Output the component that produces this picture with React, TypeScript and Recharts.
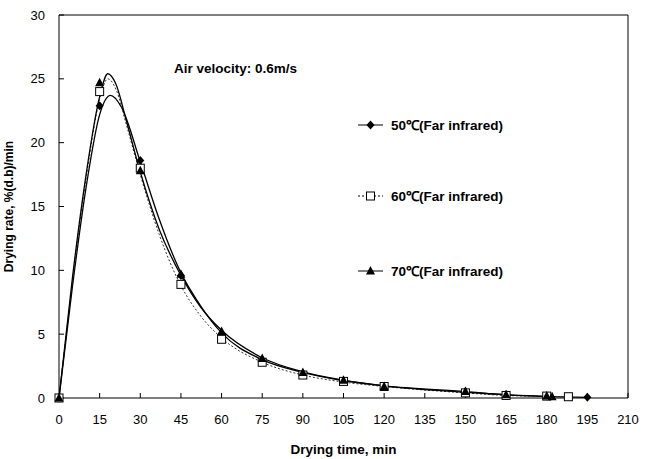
import {
  ComposedChart,
  Line,
  Scatter,
  XAxis,
  YAxis,
  ReferenceLine,
} from "recharts";

// measured points (markers)
const pts50 = [
  { x: 0, y: 0 }, { x: 15, y: 22.9 }, { x: 30, y: 18.6 }, { x: 45, y: 9.6 },
  { x: 60, y: 5.0 }, { x: 75, y: 2.9 }, { x: 90, y: 1.9 }, { x: 105, y: 1.3 },
  { x: 120, y: 0.9 }, { x: 150, y: 0.5 }, { x: 165, y: 0.25 }, { x: 180, y: 0.15 },
  { x: 195, y: 0.05 },
];
const pts60 = [
  { x: 0, y: 0 }, { x: 15, y: 24.0 }, { x: 30, y: 18.0 }, { x: 45, y: 8.9 },
  { x: 60, y: 4.6 }, { x: 75, y: 2.8 }, { x: 90, y: 1.8 }, { x: 105, y: 1.3 },
  { x: 120, y: 0.9 }, { x: 150, y: 0.4 }, { x: 165, y: 0.2 }, { x: 180, y: 0.15 },
  { x: 188, y: 0.1 },
];
const pts70 = [
  { x: 0, y: 0 }, { x: 15, y: 24.7 }, { x: 30, y: 17.8 }, { x: 45, y: 9.7 },
  { x: 60, y: 5.2 }, { x: 75, y: 3.1 }, { x: 90, y: 2.0 }, { x: 105, y: 1.4 },
  { x: 120, y: 0.9 }, { x: 150, y: 0.5 }, { x: 165, y: 0.25 }, { x: 180, y: 0.15 },
  { x: 182, y: 0.1 },
];

// fitted curves
const fit50 = [
  { x: 0, y: 0 }, { x: 5, y: 8.8 }, { x: 10, y: 16.5 }, { x: 15, y: 22.2 },
  { x: 19, y: 23.7 }, { x: 23, y: 22.8 }, { x: 30, y: 18.5 }, { x: 37, y: 14.0 },
  { x: 45, y: 9.8 }, { x: 52, y: 7.3 }, { x: 60, y: 5.1 }, { x: 75, y: 3.0 },
  { x: 90, y: 2.0 }, { x: 105, y: 1.35 }, { x: 120, y: 0.95 }, { x: 150, y: 0.5 },
  { x: 165, y: 0.25 }, { x: 195, y: 0.05 },
];
const fit60 = [
  { x: 0, y: 0 }, { x: 5, y: 9.2 }, { x: 10, y: 17.2 }, { x: 15, y: 23.4 },
  { x: 18, y: 25.0 }, { x: 21, y: 24.2 }, { x: 25, y: 21.3 }, { x: 30, y: 17.5 },
  { x: 37, y: 12.8 }, { x: 45, y: 8.8 }, { x: 52, y: 6.5 }, { x: 60, y: 4.7 },
  { x: 75, y: 2.8 }, { x: 90, y: 1.8 }, { x: 105, y: 1.25 }, { x: 120, y: 0.9 },
  { x: 150, y: 0.4 }, { x: 165, y: 0.2 }, { x: 188, y: 0.1 },
];
const fit70 = [
  { x: 0, y: 0 }, { x: 5, y: 9.5 }, { x: 10, y: 17.5 }, { x: 15, y: 23.6 },
  { x: 18, y: 25.4 }, { x: 21, y: 24.6 }, { x: 25, y: 21.6 }, { x: 30, y: 17.7 },
  { x: 37, y: 13.2 }, { x: 45, y: 9.6 }, { x: 52, y: 7.2 }, { x: 60, y: 5.3 },
  { x: 75, y: 3.15 }, { x: 90, y: 2.05 }, { x: 105, y: 1.4 }, { x: 120, y: 0.95 },
  { x: 150, y: 0.45 }, { x: 165, y: 0.25 }, { x: 182, y: 0.1 },
];

const xTicks = [0, 15, 30, 45, 60, 75, 90, 105, 120, 135, 150, 165, 180, 195, 210];
const yTicks = [0, 5, 10, 15, 20, 25, 30];

const legendItems = [
  { label: "50℃(Far infrared)", shape: "diamond", dash: undefined as string | undefined, top: 116 },
  { label: "60℃(Far infrared)", shape: "square", dash: "2 2", top: 187 },
  { label: "70℃(Far infrared)", shape: "triangle", dash: undefined, top: 262 },
];

const FONT = "'Liberation Sans', Arial, sans-serif";

function Marker({ cx, cy, kind }: any) {
  if (cx == null || cy == null) return null;
  if (kind === "diamond")
    return (
      <polygon
        points={`${cx},${cy - 4.5} ${cx + 4},${cy} ${cx},${cy + 4.5} ${cx - 4},${cy}`}
        fill="#000"
      />
    );
  if (kind === "square")
    return (
      <rect x={cx - 4} y={cy - 4} width={8} height={8} fill="#fff" stroke="#000" strokeWidth={1} />
    );
  return (
    <polygon
      points={`${cx},${cy - 5} ${cx + 4.5},${cy + 3.5} ${cx - 4.5},${cy + 3.5}`}
      fill="#000"
    />
  );
}

function LegendIcon({ shape, dash }: any) {
  return (
    <svg width={27} height={12} style={{ marginRight: 7 }}>
      <line x1={1} y1={6} x2={26} y2={6} stroke="#000" strokeWidth={1} strokeDasharray={dash} />
      <Marker cx={13.5} cy={6} kind={shape} />
    </svg>
  );
}

export default function App() {
  return (
    <div style={{ position: "absolute", left: 0, top: 0, width: 649, height: 459, background: "#fff" }}>
      <ComposedChart
        width={649}
        height={459}
        margin={{ top: 15, right: 21, left: 0, bottom: 0 }}
      >
        <XAxis
          dataKey="x"
          type="number"
          domain={[0, 210]}
          ticks={xTicks}
          interval={0}
          allowDuplicatedCategory={false}
          height={61}
          stroke="#000"
          tickSize={-5}
          tickMargin={22}
          tick={{ fill: "#000", fontSize: 13, fontFamily: FONT }}
          label={{
            value: "Drying time, min",
            position: "insideBottom",
            offset: 5,
            fill: "#000",
            fontSize: 13.5,
            fontWeight: "bold",
            fontFamily: FONT,
          }}
        />
        <YAxis
          dataKey="y"
          type="number"
          domain={[0, 30]}
          ticks={yTicks}
          interval={0}
          width={59}
          stroke="#000"
          tickSize={-5}
          tickMargin={19}
          tick={{ fill: "#000", fontSize: 13, fontFamily: FONT }}
          label={{
            value: "Drying rate, %(d.b)/min",
            angle: -90,
            position: "insideLeft",
            offset: 9,
            style: { textAnchor: "middle" },
            fill: "#000",
            fontSize: 12,
            fontWeight: "bold",
            fontFamily: FONT,
          }}
        />
        <ReferenceLine x={210} stroke="#000" strokeWidth={1} />
        <ReferenceLine y={30} stroke="#000" strokeWidth={1} />
        <Line
          data={fit50}
          dataKey="y"
          type="monotone"
          stroke="#000"
          strokeWidth={1.3}
          dot={false}
          activeDot={false}
          isAnimationActive={false}
        />
        <Line
          data={fit60}
          dataKey="y"
          type="monotone"
          stroke="#333"
          strokeWidth={1}
          strokeDasharray="2 2"
          dot={false}
          activeDot={false}
          isAnimationActive={false}
        />
        <Line
          data={fit70}
          dataKey="y"
          type="monotone"
          stroke="#000"
          strokeWidth={1.3}
          dot={false}
          activeDot={false}
          isAnimationActive={false}
        />
        <Scatter
          data={pts50}
          dataKey="y"
          isAnimationActive={false}
          shape={(p: any) => <Marker cx={p.cx} cy={p.cy} kind="diamond" />}
        />
        <Scatter
          data={pts60}
          dataKey="y"
          isAnimationActive={false}
          shape={(p: any) => <Marker cx={p.cx} cy={p.cy} kind="square" />}
        />
        <Scatter
          data={pts70}
          dataKey="y"
          isAnimationActive={false}
          shape={(p: any) => <Marker cx={p.cx} cy={p.cy} kind="triangle" />}
        />
      </ComposedChart>
      <div
        style={{
          position: "absolute",
          left: 174,
          top: 61,
          fontFamily: FONT,
          fontWeight: "bold",
          fontSize: 13.5,
          color: "#000",
          whiteSpace: "nowrap",
        }}
      >
        Air velocity: 0.6m/s
      </div>
      {legendItems.map((it) => (
        <div
          key={it.label}
          style={{
            position: "absolute",
            left: 357,
            top: it.top,
            display: "flex",
            alignItems: "center",
            fontFamily: FONT,
            fontWeight: "bold",
            fontSize: 13.5,
            color: "#000",
            whiteSpace: "nowrap",
          }}
        >
          <LegendIcon shape={it.shape} dash={it.dash} />
          {it.label}
        </div>
      ))}
    </div>
  );
}
